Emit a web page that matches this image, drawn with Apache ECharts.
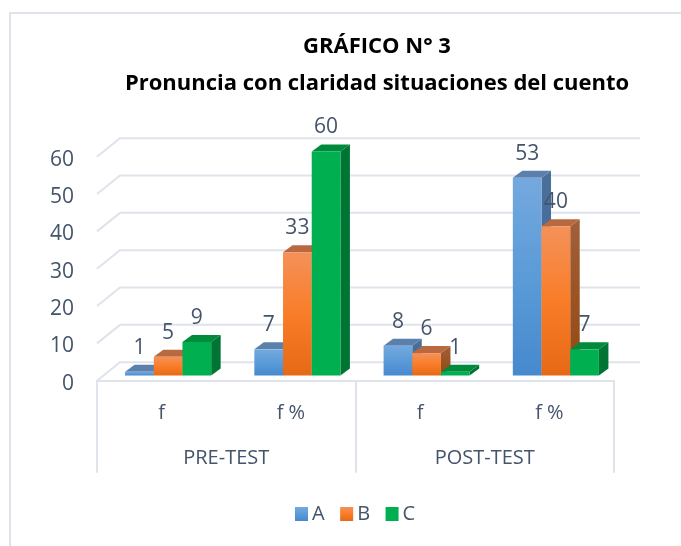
<!DOCTYPE html>
<html>
<head>
<meta charset="utf-8">
<style>
  html, body { margin: 0; padding: 0; background: #fff; }
  #main { width: 681px; height: 546px; }
</style>
<script src="https://cdn.jsdelivr.net/npm/echarts@6/dist/echarts.min.js"></script>
</head>
<body>
<div id="main"></div>
<script>
// datos
const categories = ['f', 'f %', 'f', 'f %'];
const groups = ['PRE-TEST', 'POST-TEST'];
const serieA = [1, 7, 8, 53];
const serieB = [5, 33, 6, 40];
const serieC = [9, 60, 1, 7];
const gridTicks = [0, 10, 20, 30, 40, 50, 60];

const textColor = '#44546a';
const lineColor = '#dfe3ec';
const fontName = '"Open Sans", sans-serif';

function vGrad(stops) {
  return new echarts.graphic.LinearGradient(0, 0, 0, 1, stops.map((c, i) => ({
    offset: i / (stops.length - 1),
    color: c
  })));
}

const palette = [
  { front: ['#74a9de', '#5b9bd8', '#4689cd'], top: '#5a80ab', side: ['#4a6f9b', '#3f6a9a'] },
  { front: ['#f49159', '#f97d28', '#e66a15'], top: '#b8693f', side: ['#a0603a', '#94480f'] },
  { front: ['#00b050', '#00b050'], top: '#008a3c', side: ['#007433', '#007433'] }
];

// caras de cada barra en falso 3D
const barRatio = 0.222;
const groupShift = 6.5;
const floorShift = 5.2;
const depthX = 9.5;
const depthY = 7;

function renderBar(seriesPos) {
  return function (params, api) {
    const cat = api.value(0);
    const val = api.value(1);
    const p = api.coord([cat, val]);
    const base = api.coord([cat, 0]);
    const w = api.size([1, 0])[0] * barRatio;
    const x = p[0] + groupShift + (seriesPos - 1.5) * w;
    const y = p[1] - floorShift;
    const y0 = base[1] - floorShift;
    const c = palette[seriesPos];
    return {
      type: 'group',
      children: [
        {
          type: 'polygon',
          shape: { points: [[x + w, y], [x + w + depthX, y - depthY], [x + w + depthX, y0 - depthY], [x + w, y0]] },
          style: { fill: vGrad(c.side) }
        },
        {
          type: 'polygon',
          shape: { points: [[x, y], [x + depthX, y - depthY], [x + w + depthX, y - depthY], [x + w, y]] },
          style: { fill: c.top }
        },
        {
          type: 'rect',
          shape: { x: x, y: y, width: w, height: y0 - y },
          style: { fill: vGrad(c.front) }
        },
        {
          type: 'text',
          z2: 10,
          style: {
            text: String(val),
            x: x + w / 2,
            y: y - 24,
            align: 'center',
            verticalAlign: 'middle',
            fill: textColor,
            font: '21px ' + fontName
          }
        }
      ]
    };
  };
}

// lineas de la pared del fondo
function renderWall(params, api) {
  const g = params.coordSys;
  const y = api.coord([0, api.value(1)])[1];
  return {
    type: 'polyline',
    silent: true,
    shape: { points: [[g.x, y], [g.x + 23, y - 18.5], [g.x + g.width + 26, y - 18.5]] },
    style: { fill: null, stroke: lineColor, lineWidth: 2 }
  };
}

function barSeries(name, values, pos) {
  return {
    name: name,
    type: 'custom',
    xAxisIndex: 0,
    yAxisIndex: 0,
    renderItem: renderBar(pos),
    encode: { x: 0, y: 1 },
    itemStyle: { color: vGrad(palette[pos].front) },
    z: 3,
    data: values.map((v, i) => [i, v])
  };
}

const chart = echarts.init(document.getElementById('main'));
chart.setOption({
  animation: false,
  backgroundColor: '#fff',
  graphic: [{
    type: 'polyline',
    silent: true,
    shape: { points: [[10, 546], [10, 13], [681, 13]] },
    style: { fill: null, stroke: lineColor, lineWidth: 2 }
  }],
  title: {
    text: 'GRÁFICO N° 3\nPronuncia con claridad situaciones del cuento',
    left: 372,
    top: 23,
    textAlign: 'center',
    textStyle: {
      color: '#000',
      fontFamily: fontName,
      fontWeight: 'bold',
      fontSize: 22,
      lineHeight: 37
    }
  },
  legend: {
    data: ['A', 'B', 'C'],
    left: 290,
    top: 499,
    itemWidth: 13,
    itemHeight: 14,
    itemGap: 15.5,
    icon: 'rect',
    textStyle: { color: textColor, fontFamily: fontName, fontSize: 20, padding: [0, 0, 0, -1] }
  },
  grid: { left: 97, right: 67, top: 156.7, bottom: 165.3 },
  xAxis: [
    {
      type: 'category',
      data: categories,
      axisLine: { show: true, lineStyle: { color: lineColor, width: 2 } },
      axisTick: { show: false },
      axisLabel: { color: textColor, fontFamily: fontName, fontSize: 20, margin: 23 }
    },
    {
      type: 'category',
      data: groups,
      position: 'bottom',
      axisLine: { show: false },
      axisTick: { show: true, length: 92, lineStyle: { color: lineColor, width: 2 } },
      axisLabel: { color: textColor, fontFamily: fontName, fontSize: 20, margin: 68 }
    }
  ],
  yAxis: {
    type: 'value',
    min: 0,
    max: 60,
    interval: 10,
    axisLine: { show: false },
    axisTick: { show: false },
    splitLine: { show: false },
    axisLabel: { color: textColor, fontFamily: fontName, fontSize: 21, margin: 23, verticalAlign: 'top', lineHeight: 6 }
  },
  series: [
    {
      name: 'pared',
      type: 'custom',
      xAxisIndex: 0,
      yAxisIndex: 0,
      renderItem: renderWall,
      encode: { x: 0, y: 1 },
      silent: true,
      z: 1,
      data: gridTicks.map(t => [0, t])
    },
    barSeries('A', serieA, 0),
    barSeries('B', serieB, 1),
    barSeries('C', serieC, 2)
  ]
});
</script>
</body>
</html>
